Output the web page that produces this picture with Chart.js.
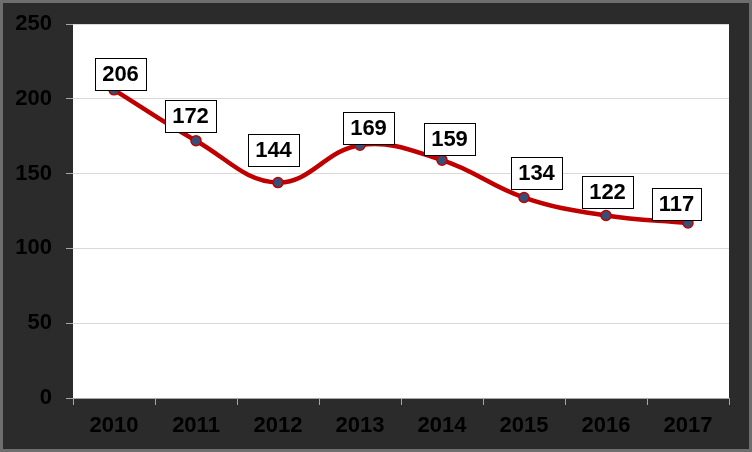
<!DOCTYPE html>
<html>
<head>
<meta charset="utf-8">
<script src="https://cdn.jsdelivr.net/npm/chart.js@4"></script>
<style>
  html, body { margin: 0; padding: 0; background: #2b2b2b; }
  #wrap { width: 752px; height: 452px; }
</style>
</head>
<body>
<div id="wrap"><canvas id="chart" width="752" height="452"></canvas></div>
<script>
const years = ['2010', '2011', '2012', '2013', '2014', '2015', '2016', '2017'];
const values = [206, 172, 144, 169, 159, 134, 122, 117];
const yTicks = [0, 50, 100, 150, 200, 250];

// label box nudges (px) as placed in the original: [dx, gap above point]
const labelNudge = [[6, 0], [-6, 9], [-5, 17], [8, 1], [7, 5], [12, 9], [1, 7], [-12, 3]];

const FONT = '"Liberation Sans", Arial, sans-serif';

// background, white plot area, outer frame
const frame = {
  id: 'frame',
  beforeDraw(chart) {
    const { ctx, chartArea: a, width, height } = chart;
    ctx.save();
    ctx.fillStyle = '#2b2b2b';
    ctx.fillRect(0, 0, width, height);
    ctx.strokeStyle = '#6e6e6e';
    ctx.lineWidth = 3;
    ctx.strokeRect(1.5, 1.5, width - 3, height - 3);
    ctx.fillStyle = '#ffffff';
    ctx.fillRect(a.left, a.top, a.right - a.left, a.bottom - a.top);
    ctx.restore();
  }
};

// boxed value labels above points
const boxLabels = {
  id: 'boxLabels',
  afterDatasetsDraw(chart) {
    const { ctx } = chart;
    const meta = chart.getDatasetMeta(0);
    ctx.save();
    ctx.font = 'bold 22px ' + FONT;
    ctx.textAlign = 'center';
    ctx.textBaseline = 'middle';
    meta.data.forEach((pt, i) => {
      const txt = String(values[i]);
      const w = Math.round(ctx.measureText(txt).width + 14);
      const h = 32;
      const [dx, gap] = labelNudge[i];
      const x = Math.round(pt.x + dx);
      const bottom = Math.round(pt.y - gap);
      const left = Math.round(x - w / 2);
      ctx.fillStyle = '#ffffff';
      ctx.fillRect(left, bottom - h, w, h);
      ctx.strokeStyle = '#000000';
      ctx.lineWidth = 1;
      ctx.strokeRect(left + 0.5, bottom - h + 0.5, w, h);
      ctx.fillStyle = '#000000';
      ctx.fillText(txt, x + 0.5, bottom - h / 2 + 1);
    });
    ctx.restore();
  }
};

new Chart(document.getElementById('chart'), {
  type: 'line',
  data: {
    labels: years,
    datasets: [{
      data: values,
      borderColor: '#c00000',
      borderWidth: 4.5,
      tension: 0.4,
      pointRadius: 5,
      pointBackgroundColor: '#34507a',
      pointBorderColor: '#c00000',
      pointBorderWidth: 1.5
    }]
  },
  options: {
    responsive: false,
    animation: false,
    layout: { padding: { left: 0, top: 24, right: 23, bottom: 0 } },
    plugins: { legend: { display: false }, tooltip: { enabled: false } },
    scales: {
      x: {
        offset: true,
        grid: { offset: true, drawOnChartArea: false, drawTicks: true, tickLength: 7, color: '#a6a6a6' },
        border: { display: true, color: '#a6a6a6' },
        ticks: {
          color: '#000000',
          padding: 8,
          font: { family: FONT, size: 22, weight: 'bold' }
        },
        afterFit(scale) { scale.height = 54; scale.paddingLeft = 0; scale.paddingRight = 0; }
      },
      y: {
        min: 0,
        max: 250,
        afterBuildTicks(scale) { scale.ticks = yTicks.map(v => ({ value: v })); },
        grid: { color: '#d9d9d9', tickLength: 7, tickColor: '#a6a6a6' },
        border: { display: false },
        ticks: {
          color: '#000000',
          padding: 14,
          font: { family: FONT, size: 22, weight: 'bold' }
        },
        afterFit(scale) { scale.width = 73; scale.paddingTop = 0; scale.paddingBottom = 0; }
      }
    }
  },
  plugins: [frame, boxLabels]
});
</script>
</body>
</html>
